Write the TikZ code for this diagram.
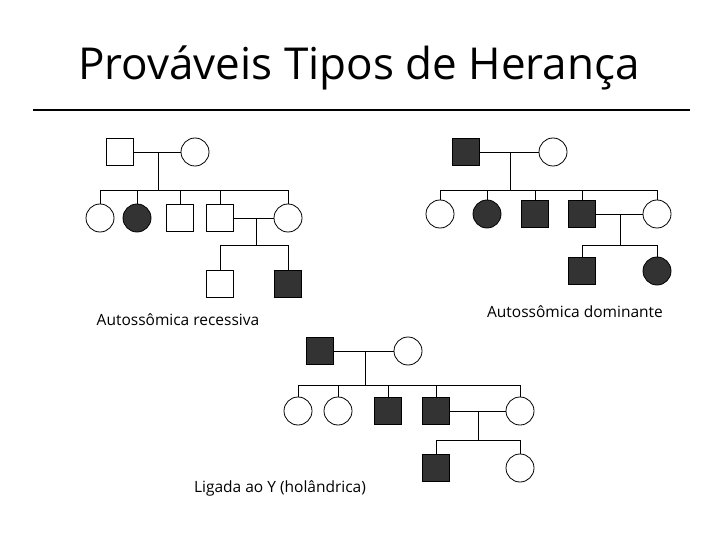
\documentclass[tikz,border=0pt]{standalone}
\usepackage{fontspec}
\setmainfont{Open Sans}
\begin{document}
\begin{tikzpicture}[x=1pt,y=-1pt,
  m/.style={draw,thick,minimum size=27pt,inner sep=0pt},
  f/.style={draw,thick,circle,minimum size=28pt,inner sep=0pt},
  af/.style={fill=black!80},
  ln/.style={thick},
  lab/.style={font=\fontsize{15.5}{18}\selectfont}]
\useasboundingbox (0,0) rectangle (720,540);
\node[font=\fontsize{44}{50}\selectfont] (title) at (359,68) {Prováveis Tipos de Herança};
\coordinate (r1) at (33,110); \coordinate (r2) at (690,110);
\draw[line width=2.5pt] (r1) -- (r2);
% pedigree 1
\node[m] (a1) at (120,152) {}; \node[f] (a2) at (195,152) {};
\draw[ln] (a1) -- (a2);
\coordinate (a3) at (158,152); \coordinate (a4) at (158,190);
\draw[ln] (a3) -- (a4);
\node[f] (c1) at (100,218) {}; \node[f,af] (c2) at (137,218) {};
\node[m] (c3) at (180,218) {}; \node[m] (c4) at (220,218) {}; \node[f] (c5) at (288,218) {};
\draw[ln] (c1.north|-a4) -- (c5.north|-a4);
\foreach \n in {c1,c2,c3,c4,c5} \draw[ln] (\n.north|-a4) -- (\n.north);
\draw[ln] (c4) -- (c5);
\coordinate (a5) at (256,218); \coordinate (a6) at (256,245);
\draw[ln] (a5) -- (a6);
\node[m] (g1) at (220,284) {}; \node[m,af] (g2) at (288,284) {};
\draw[ln] (g1.north|-a6) -- (g2.north|-a6);
\foreach \n in {g1,g2} \draw[ln] (\n.north|-a6) -- (\n.north);
\node[lab] (l1) at (178,320) {Autossômica recessiva};
% pedigree 2
\node[m,af] (b1) at (466,152) {}; \node[f] (b2) at (553,152) {};
\draw[ln] (b1) -- (b2);
\coordinate (b3) at (510,152); \coordinate (b4) at (510,190);
\draw[ln] (b3) -- (b4);
\node[f] (d1) at (440,214) {}; \node[f,af] (d2) at (487,214) {};
\node[m,af] (d3) at (535,214) {}; \node[m,af] (d4) at (582,214) {}; \node[f] (d5) at (657,214) {};
\draw[ln] (d1.north|-b4) -- (d5.north|-b4);
\foreach \n in {d1,d2,d3,d4,d5} \draw[ln] (\n.north|-b4) -- (\n.north);
\draw[ln] (d4) -- (d5);
\coordinate (b5) at (620,214); \coordinate (b6) at (620,245);
\draw[ln] (b5) -- (b6);
\node[m,af] (h1) at (582,271) {}; \node[f,af] (h2) at (657,271) {};
\draw[ln] (h1.north|-b6) -- (h2.north|-b6);
\foreach \n in {h1,h2} \draw[ln] (\n.north|-b6) -- (\n.north);
\node[lab] (l2) at (575,312) {Autossômica dominante};
% pedigree 3
\node[m,af] (e1) at (320,351) {}; \node[f] (e2) at (408,351) {};
\draw[ln] (e1) -- (e2);
\coordinate (e3) at (365,351); \coordinate (e4) at (365,385);
\draw[ln] (e3) -- (e4);
\node[f] (k1) at (298,411) {}; \node[f] (k2) at (338,411) {};
\node[m,af] (k3) at (388,411) {}; \node[m,af] (k4) at (436,411) {}; \node[f] (k5) at (520,411) {};
\draw[ln] (k1.north|-e4) -- (k5.north|-e4);
\foreach \n in {k1,k2,k3,k4,k5} \draw[ln] (\n.north|-e4) -- (\n.north);
\draw[ln] (k4) -- (k5);
\coordinate (e5) at (478,411); \coordinate (e6) at (478,440);
\draw[ln] (e5) -- (e6);
\node[m,af] (q1) at (436,468) {}; \node[f] (q2) at (520,468) {};
\draw[ln] (q1.north|-e6) -- (q2.north|-e6);
\foreach \n in {q1,q2} \draw[ln] (\n.north|-e6) -- (\n.north);
\node[lab] (l3) at (280,488) {Ligada ao Y (holândrica)};
\end{tikzpicture}
\end{document}
